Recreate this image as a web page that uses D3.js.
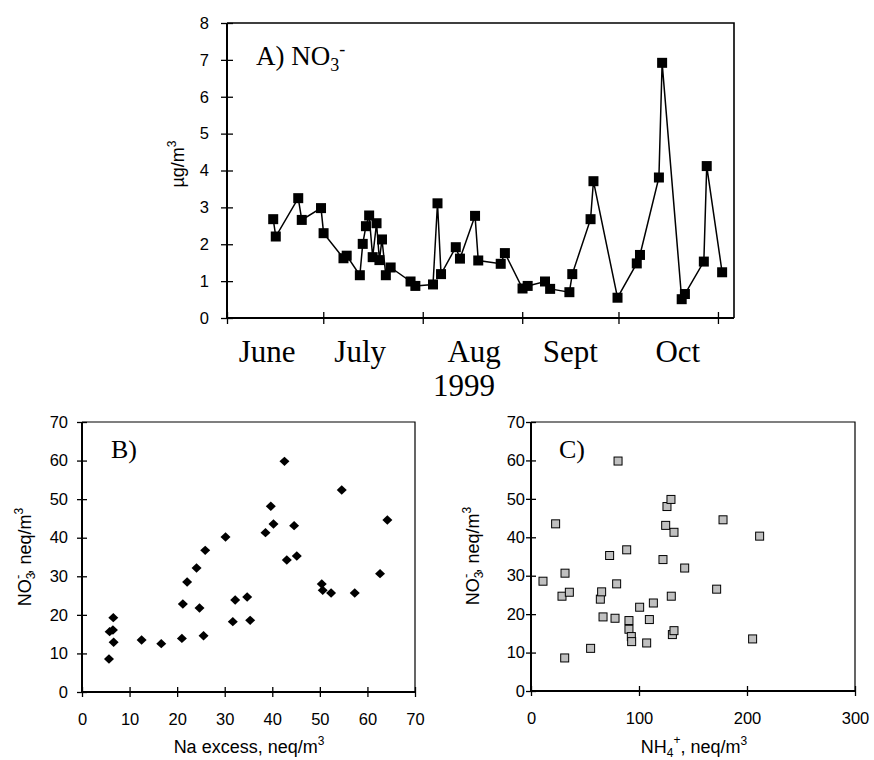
<!DOCTYPE html>
<html>
<head>
<meta charset="utf-8">
<script src="https://cdn.jsdelivr.net/npm/d3@7"></script>
<style>
  html, body { margin: 0; padding: 0; background: #fff; }
  svg { display: block; }
</style>
</head>
<body>
<svg id="chart" width="874" height="760"></svg>
<script>
// ---------- Data ----------
// Panel A: days since 1 June 1999, NO3- in µg/m3
const sampleDays = [14.4,15.2,22.2,23.3,29.3,30.1,36.3,37.3,41.4,42.3,43.3,44.3,45.4,46.6,47.5,48.3,49.5,51.0,57.2,58.7,64.2,65.6,66.7,71.3,72.6,77.3,78.3,85.3,86.6,92.1,93.7,99.1,100.7,106.7,107.6,113.3,114.2,121.7,127.7,128.7,134.6,135.6,141.7,142.7,148.6,149.5,154.3];
const no3Mass = [2.68,2.21,3.25,2.66,2.98,2.30,1.62,1.69,1.16,2.01,2.49,2.78,1.65,2.57,1.57,2.13,1.16,1.37,0.99,0.87,0.91,3.11,1.19,1.92,1.61,2.77,1.56,1.47,1.76,0.80,0.87,0.99,0.79,0.70,1.19,2.68,3.71,0.55,1.48,1.71,3.81,6.92,0.51,0.65,1.53,4.12,1.24];
const monthTickDays = [0,30,61,92,122,153];
const monthNames = ["June","July","Aug","Sept","Oct"];
const monthLabelDays = [12.5,41.5,77,107,140.5];
const yearLabel = "1999";
const yTicksA = [0,1,2,3,4,5,6,7,8];

// Panel B: Na excess vs NO3- (neq/m3)
const naExcess = [5.67,5.81,6.5,6.65,6.58,12.53,16.66,21.0,21.2,22.1,24.08,24.7,25.55,25.9,30.17,31.7,32.2,34.72,35.35,38.57,39.69,40.25,42.56,43.05,44.59,45.15,50.4,50.6,52.36,54.6,57.33,62.65,64.19];
const no3B = [8.56,15.64,16.07,12.88,19.27,13.48,12.53,13.9,22.8,28.5,32.15,21.78,14.6,36.73,40.19,18.24,23.85,24.63,18.58,41.31,48.14,43.56,59.8,34.22,43.13,35.26,28.0,26.36,25.67,52.37,25.67,30.68,44.59];
const ticksB = [0,10,20,30,40,50,60,70];

// Panel C: NH4+ vs NO3- (neq/m3)
const nh4 = [11.1,22.8,28.7,31.5,31.2,35.5,55.2,64.2,65.4,66.7,72.8,77.8,79.3,80.6,88.6,90.7,90.7,92.9,93.2,100.6,107.1,109.6,113.3,122.2,124.7,125.9,129.6,129.9,130.9,132.4,132.4,142.3,171.9,177.8,205.2,211.7];
const no3C = [28.57,43.5,24.67,30.66,8.6,25.7,11.1,23.9,25.8,19.28,35.26,18.93,27.88,59.84,36.74,18.33,16.07,14.16,12.85,21.8,12.5,18.59,22.9,34.2,43.1,48.0,49.85,24.67,14.68,15.7,41.3,32.0,26.5,44.55,13.55,40.3];
const xTicksC = [0,100,200,300];
const yTicksC = [0,10,20,30,40,50,60,70];

// ---------- Drawing ----------
const svg = d3.select("#chart");
const SERIF = "'Liberation Serif', 'Times New Roman', serif";
const SANS = "'Liberation Sans', Arial, sans-serif";
const TICK_FS = 16.5;
const TITLE_FS = 18;

function styleAxis(g, orient, len) {
  g.attr("font-family", SANS).attr("font-size", TICK_FS);
  g.selectAll(".tick text").attr("fill", "#000");
  g.selectAll(".tick line").attr("stroke", "#000").attr("stroke-width", 1.3);
  if (orient === "left") g.selectAll(".tick line").attr("x1", -len).attr("x2", len);
  else g.selectAll(".tick line").attr("y1", -len).attr("y2", len);
  g.select(".domain").remove();
}

function frame(x0, x1, y0, y1, bw, aw) {
  svg.append("path").attr("d", `M${x0},${y0}H${x1}V${y1}`).attr("fill", "none").attr("stroke", "#000").attr("stroke-width", bw);
  svg.append("path").attr("d", `M${x0},${y0}V${y1}H${x1}`).attr("fill", "none").attr("stroke", "#000").attr("stroke-width", aw);
}

// ===== Panel A =====
const xA = d3.scaleLinear().domain([0,158]).range([227,734]);
const yA = d3.scaleLinear().domain([0,8]).range([318,23]);

const gyA = svg.append("g").attr("transform", `translate(${xA(0)},0)`)
  .call(d3.axisLeft(yA).tickValues(yTicksA).tickFormat(d3.format("d")).tickSizeOuter(0).tickPadding(12));
styleAxis(gyA, "left", 6);

const gxA = svg.append("g").attr("transform", `translate(0,${yA(0)})`)
  .call(d3.axisBottom(xA).tickValues(monthTickDays).tickFormat("").tickSizeOuter(0));
styleAxis(gxA, "bottom", 6);

frame(xA(0), xA(158), yA(8), yA(0), 1.6, 2);

svg.append("g").selectAll("text").data(monthNames).join("text")
  .attr("x", (d,i) => xA(monthLabelDays[i]))
  .attr("y", 362)
  .attr("text-anchor", "middle")
  .attr("font-family", SERIF).attr("font-size", 31)
  .text(d => d);

svg.append("text").attr("x", 464).attr("y", 396)
  .attr("text-anchor", "middle").attr("font-family", SERIF).attr("font-size", 31)
  .text(yearLabel);

const lineA = d3.line().x((d,i) => xA(sampleDays[i])).y(d => yA(d));
svg.append("path").datum(no3Mass).attr("d", lineA)
  .attr("fill", "none").attr("stroke", "#000").attr("stroke-width", 1.5);

svg.append("g").selectAll("rect").data(no3Mass).join("rect")
  .attr("x", (d,i) => xA(sampleDays[i]) - 5)
  .attr("y", d => yA(d) - 5)
  .attr("width", 10).attr("height", 10).attr("fill", "#000");

const tA = svg.append("text").attr("x", 256).attr("y", 65)
  .attr("font-family", SERIF).attr("font-size", 27);
tA.append("tspan").text("A) NO");
tA.append("tspan").attr("font-size", 18).attr("dy", 6).text("3");
tA.append("tspan").attr("font-size", 18).attr("dy", -16).text("-");

const ytA = svg.append("text")
  .attr("transform", "translate(184,164) rotate(-90)")
  .attr("text-anchor", "middle").attr("font-family", SANS).attr("font-size", TITLE_FS);
ytA.append("tspan").text("µg/m");
ytA.append("tspan").attr("font-size", 12).attr("dy", -8).text("3");

// ===== Panel B =====
const xB = d3.scaleLinear().domain([0,70]).range([82,415]);
const yB = d3.scaleLinear().domain([0,70]).range([692,422]);

const gyB = svg.append("g").attr("transform", `translate(${xB(0)},0)`)
  .call(d3.axisLeft(yB).tickValues(ticksB).tickSizeOuter(0).tickPadding(8));
styleAxis(gyB, "left", 5);
const gxB = svg.append("g").attr("transform", `translate(0,${yB(0)})`)
  .call(d3.axisBottom(xB).tickValues(ticksB).tickSizeOuter(0).tickPadding(15));
styleAxis(gxB, "bottom", 5);
frame(xB(0), xB(70), yB(70), yB(0), 1.2, 2);

const diamondPath = "M0,-4.7L5,0L0,4.7L-5,0Z";
svg.append("g").selectAll("path").data(no3B).join("path")
  .attr("d", diamondPath)
  .attr("transform", (d,i) => `translate(${xB(naExcess[i])},${yB(d)})`)
  .attr("fill", "#000");

svg.append("text").attr("x", 111).attr("y", 458)
  .attr("font-family", SERIF).attr("font-size", 26).text("B)");

function no3Title(x, y) {
  const t = svg.append("text")
    .attr("transform", `translate(${x},${y}) rotate(-90)`)
    .attr("text-anchor", "middle").attr("font-family", SANS).attr("font-size", TITLE_FS);
  t.append("tspan").text("NO");
  t.append("tspan").attr("font-size", 12).attr("dy", 4).text("3");
  t.append("tspan").attr("font-size", 13).attr("dx", -6.5).attr("dy", -13).text("-");
  t.append("tspan").attr("dy", 9).text(", neq/m");
  t.append("tspan").attr("font-size", 12).attr("dy", -8).text("3");
}
no3Title(31, 557);

const xtB = svg.append("text").attr("x", 249).attr("y", 753)
  .attr("text-anchor", "middle").attr("font-family", SANS).attr("font-size", TITLE_FS);
xtB.append("tspan").text("Na excess, neq/m");
xtB.append("tspan").attr("font-size", 12).attr("dy", -8).text("3");

// ===== Panel C =====
const xC = d3.scaleLinear().domain([0,300]).range([531,855]);
const yC = d3.scaleLinear().domain([0,70]).range([691,422]);

const gyC = svg.append("g").attr("transform", `translate(${xC(0)},0)`)
  .call(d3.axisLeft(yC).tickValues(yTicksC).tickSizeOuter(0).tickPadding(0));
styleAxis(gyC, "left", 5);
const gxC = svg.append("g").attr("transform", `translate(0,${yC(0)})`)
  .call(d3.axisBottom(xC).tickValues(xTicksC).tickSizeOuter(0).tickPadding(15));
styleAxis(gxC, "bottom", 5);
frame(xC(0), xC(300), yC(70), yC(0), 1.2, 2);

svg.append("g").selectAll("rect").data(no3C).join("rect")
  .attr("x", (d,i) => xC(nh4[i]) - 4)
  .attr("y", d => yC(d) - 4)
  .attr("width", 8).attr("height", 8)
  .attr("fill", "#c0c0c0").attr("stroke", "#000").attr("stroke-width", 1);

svg.append("text").attr("x", 559).attr("y", 458)
  .attr("font-family", SERIF).attr("font-size", 26).text("C)");

no3Title(479, 556);

const xtC = svg.append("text").attr("x", 694).attr("y", 753)
  .attr("text-anchor", "middle").attr("font-family", SANS).attr("font-size", TITLE_FS);
xtC.append("tspan").text("NH");
xtC.append("tspan").attr("font-size", 12).attr("dy", 4).text("4");
xtC.append("tspan").attr("font-size", 12).attr("dy", -13).text("+");
xtC.append("tspan").attr("dy", 9).text(", neq/m");
xtC.append("tspan").attr("font-size", 12).attr("dy", -8).text("3");
</script>
</body>
</html>
